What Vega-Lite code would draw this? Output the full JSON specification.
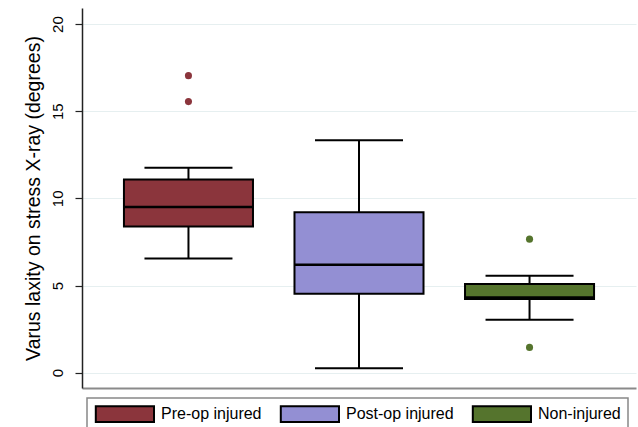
{
  "$schema": "https://vega.github.io/schema/vega-lite/v6.json",
  "width": 554,
  "height": 380,
  "autosize": {"type": "none"},
  "padding": {"left": 82, "top": 8, "right": 2, "bottom": 39},
  "background": "white",
  "config": {
    "view": {"stroke": null},
    "font": "Liberation Sans",
    "legend": {
      "orient": "none",
      "legendX": 5,
      "legendY": 390,
      "direction": "horizontal",
      "columns": 3,
      "symbolType": "M-0.9,-0.97H6.375V0.97H-0.9Z",
      "symbolSize": 256,
      "symbolStrokeColor": "black",
      "symbolStrokeWidth": 2,
      "symbolOpacity": 1,
      "labelFontSize": 16,
      "labelColor": "black",
      "labelOffset": 49,
      "columnPadding": 14,
      "padding": 7,
      "strokeColor": "#888888",
      "strokeWidth": 1.5,
      "fillColor": "white",
      "labelLimit": 300
    }
  },
  "datasets": {
    "boxes": [
      {"group": "Pre-op injured", "lower": 6.55, "q1": 8.39, "median": 9.51, "q3": 11.08, "upper": 11.75},
      {"group": "Post-op injured", "lower": 0.25, "q1": 4.53, "median": 6.19, "q3": 9.2, "upper": 13.33},
      {"group": "Non-injured", "lower": 3.04, "q1": 4.22, "median": 4.31, "q3": 5.08, "upper": 5.56}
    ],
    "outliers": [
      {"group": "Pre-op injured", "value": 17.04},
      {"group": "Pre-op injured", "value": 15.55},
      {"group": "Non-injured", "value": 7.66},
      {"group": "Non-injured", "value": 1.45}
    ]
  },
  "encoding": {
    "x": {
      "field": "group",
      "type": "nominal",
      "sort": null,
      "scale": {
        "domain": ["Pre-op injured", "Post-op injured", "Non-injured"],
        "paddingInner": 0.2434,
        "paddingOuter": 0.246
      },
      "axis": {
        "labels": false,
        "ticks": false,
        "title": null,
        "grid": false,
        "domainColor": "#8a8a8a",
        "domainWidth": 2
      }
    }
  },
  "layer": [
    {
      "data": {"name": "boxes"},
      "mark": {"type": "rule", "color": "black", "strokeWidth": 2},
      "encoding": {
        "y": {
          "field": "lower",
          "type": "quantitative",
          "title": "Varus laxity on stress X-ray (degrees)",
          "scale": {"domain": [-0.88, 20.92], "nice": false, "zero": false},
          "axis": {
            "title": "Varus laxity on stress X-ray (degrees)",
            "values": [0, 5, 10, 15, 20],
            "grid": true,
            "gridColor": "#e6eff0",
            "gridWidth": 1,
            "domainColor": "#222222",
            "domainWidth": 1.5,
            "tickColor": "#222222",
            "tickWidth": 1.2,
            "tickSize": 7,
            "labelAngle": -90,
            "labelAlign": "center",
            "labelBaseline": "bottom",
            "labelFontSize": 15,
            "labelColor": "black",
            "labelPadding": 10,
            "titleFontSize": 19.5,
            "titleFontWeight": "normal",
            "titleColor": "black",
            "titlePadding": 7
          }
        },
        "y2": {"field": "q1"}
      }
    },
    {
      "data": {"name": "boxes"},
      "mark": {"type": "rule", "color": "black", "strokeWidth": 2},
      "encoding": {
        "y": {"field": "q3", "type": "quantitative", "title": "Varus laxity on stress X-ray (degrees)"},
        "y2": {"field": "upper"}
      }
    },
    {
      "data": {"name": "boxes"},
      "mark": {"type": "tick", "color": "black", "size": 88, "thickness": 2, "opacity": 1},
      "encoding": {
        "y": {"field": "lower", "type": "quantitative", "title": "Varus laxity on stress X-ray (degrees)"}
      }
    },
    {
      "data": {"name": "boxes"},
      "mark": {"type": "tick", "color": "black", "size": 88, "thickness": 2, "opacity": 1},
      "encoding": {
        "y": {"field": "upper", "type": "quantitative", "title": "Varus laxity on stress X-ray (degrees)"}
      }
    },
    {
      "data": {"name": "boxes"},
      "mark": {"type": "bar", "stroke": "black", "strokeWidth": 2, "opacity": 1},
      "encoding": {
        "y": {"field": "q1", "type": "quantitative", "title": "Varus laxity on stress X-ray (degrees)"},
        "y2": {"field": "q3"},
        "color": {
          "field": "group",
          "type": "nominal",
          "sort": null,
          "scale": {
            "domain": ["Pre-op injured", "Post-op injured", "Non-injured"],
            "range": ["#8b353c", "#938fd3", "#55742d"]
          },
          "legend": {"title": null}
        }
      }
    },
    {
      "data": {"name": "boxes"},
      "mark": {"type": "tick", "color": "black", "size": 129, "thickness": 2.5, "opacity": 1},
      "encoding": {
        "y": {"field": "median", "type": "quantitative", "title": "Varus laxity on stress X-ray (degrees)"}
      }
    },
    {
      "data": {"name": "outliers"},
      "mark": {"type": "point", "filled": true, "size": 50, "opacity": 1},
      "encoding": {
        "y": {"field": "value", "type": "quantitative", "title": "Varus laxity on stress X-ray (degrees)"},
        "color": {"field": "group", "type": "nominal", "legend": null}
      }
    }
  ]
}
